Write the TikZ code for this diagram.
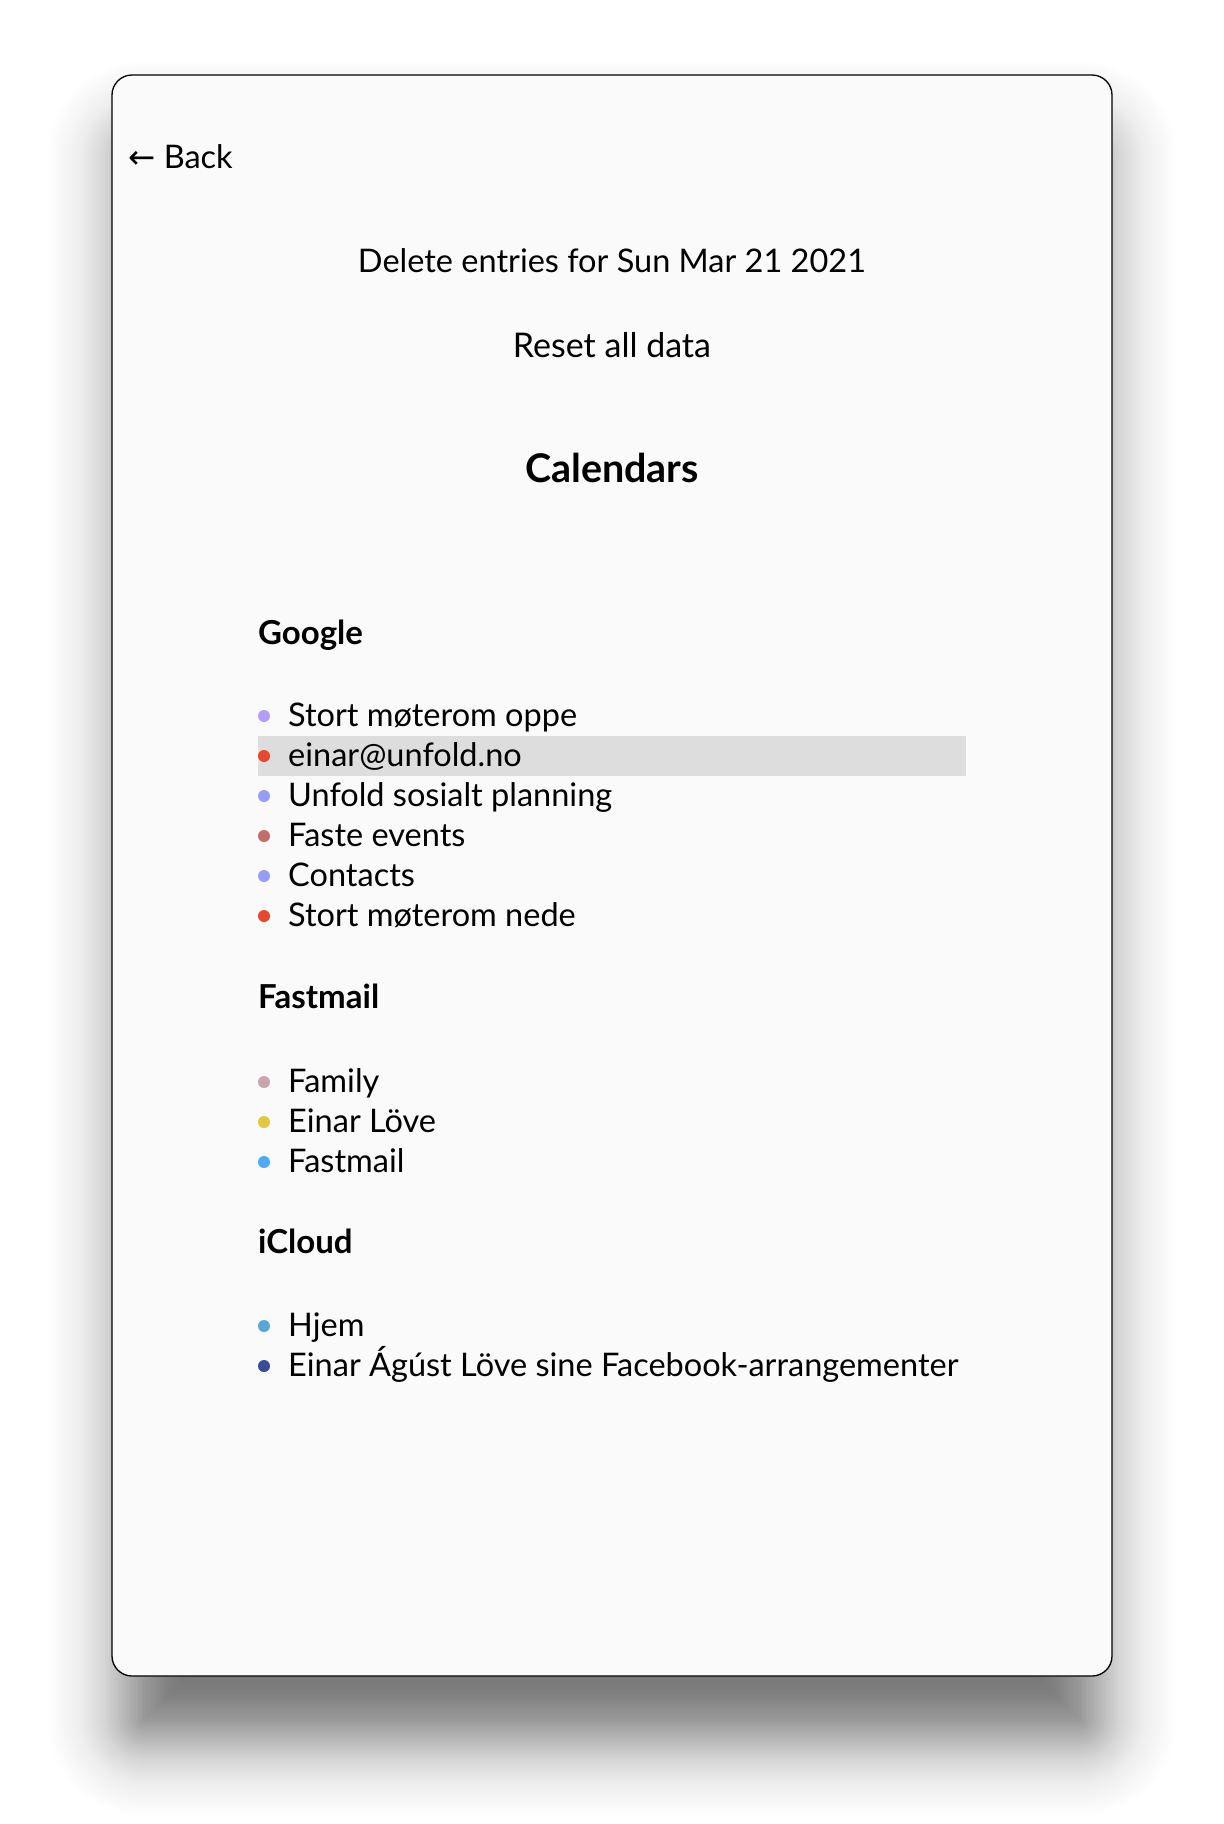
\documentclass[tikz,border=0pt]{standalone}
\usepackage{fontspec}
\setmainfont{Lato}
\newfontfamily\arrowfont{DejaVu Sans}
\definecolor{winbg}{HTML}{FAFAFA}
\definecolor{hl}{HTML}{DDDDDD}
\definecolor{cLav}{HTML}{B49CFB}
\definecolor{cRed}{HTML}{E8472F}
\definecolor{cPeri}{HTML}{959DFB}
\definecolor{cRose}{HTML}{C26E68}
\definecolor{cFam}{HTML}{C9A5AB}
\definecolor{cYel}{HTML}{E2C93E}
\definecolor{cBlue}{HTML}{4DAAF6}
\definecolor{cHjem}{HTML}{58A9D8}
\definecolor{cNavy}{HTML}{3A4B99}
\tikzset{
  txt/.style={inner sep=0pt, font=\fontsize{32.5}{38}\selectfont},
  item/.style={inner sep=0pt, anchor=base west, font=\fontsize{32.5}{38}\selectfont},
  head/.style={inner sep=0pt, anchor=base west, font=\fontsize{33}{38}\selectfont\bfseries},
  dot/.style={circle, inner sep=0pt, minimum size=12pt, fill=#1},
}
\begin{document}
\begin{tikzpicture}[x=1pt,y=-1pt]
\useasboundingbox (0,0) rectangle (1224,1824);
\fill[white] (0,0) rectangle (1224,1824);
% shadow (layered approximation of a gaussian blur)
\foreach \e in {-120,-118,...,132}{
  \pgfmathsetmacro{\rr}{max(1,20+\e)}
  \pgfmathsetmacro{\lg}{1/(1+exp(1.702*\e/44))}
  \pgfmathsetmacro{\op}{0.6*2*1.702/44*\lg*(1-\lg)}
  \fill[black, opacity=\op, rounded corners=\rr pt] (125-\e,138-\e) rectangle (1099+\e,1739+\e);
}
% window
\draw[fill=winbg, line width=1.3pt, rounded corners=20pt] (112,75) rectangle (1112,1676);
% highlight
\fill[hl] (258,736) rectangle (966,776);
% top texts
\node[txt, anchor=base west] (back) at (128,168) {{\arrowfont ←} Back};
\node[txt, anchor=base] (del) at (612,272) {Delete entries for Sun Mar 21 2021};
\node[inner sep=0pt, anchor=base, font=\fontsize{34}{40}\selectfont] (reset) at (612,357) {Reset all data};
\node[inner sep=0pt, anchor=base, font=\fontsize{39.5}{46}\selectfont\bfseries] (cal) at (612,482) {Calendars};
% Google
\node[head] (google) at (258,644) {Google};
\node[dot=cLav] (d1) at (264,716) {};
\node[item] (i1) at (288,726) {Stort møterom oppe};
\node[dot=cRed] (d2) at (264,756) {};
\node[item] (i2) at (288,766) {einar@unfold.no};
\node[dot=cPeri] (d3) at (264,796) {};
\node[item] (i3) at (288,806) {Unfold sosialt planning};
\node[dot=cRose] (d4) at (264,836) {};
\node[item] (i4) at (288,846) {Faste events};
\node[dot=cPeri] (d5) at (264,876) {};
\node[item] (i5) at (288,886) {Contacts};
\node[dot=cRed] (d6) at (264,916) {};
\node[item] (i6) at (288,926) {Stort møterom nede};
% Fastmail
\node[head] (fastmail) at (258,1008) {Fastmail};
\node[dot=cFam] (d7) at (264,1082) {};
\node[item] (i7) at (288,1092) {Family};
\node[dot=cYel] (d8) at (264,1122) {};
\node[item] (i8) at (288,1132) {Einar Löve};
\node[dot=cBlue] (d9) at (264,1162) {};
\node[item] (i9) at (288,1172) {Fastmail};
% iCloud
\node[head] (icloud) at (258,1253) {iCloud};
\node[dot=cHjem] (d10) at (264,1326) {};
\node[item] (i10) at (288,1336) {Hjem};
\node[dot=cNavy] (d11) at (264,1366) {};
\node[item] (i11) at (288,1376) {Einar Ágúst Löve sine Facebook-arrangementer};
\end{tikzpicture}
\end{document}
